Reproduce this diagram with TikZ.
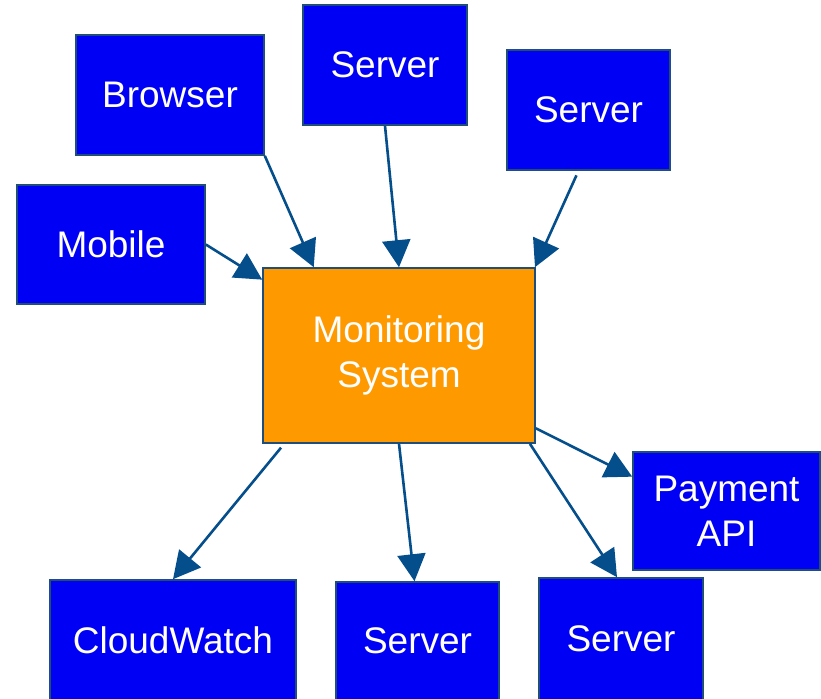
\documentclass[tikz,border=0pt]{standalone}
\usepackage{fontspec}
\setmainfont{Liberation Sans}
\usetikzlibrary{arrows.meta,positioning}

\definecolor{boxblue}{RGB}{0,0,245}
\definecolor{boxedge}{RGB}{30,78,121}
\definecolor{monorange}{RGB}{255,153,0}
\definecolor{arrowblue}{RGB}{5,78,140}

\tikzset{
	box/.style={draw=boxedge, line width=1.6pt, fill=boxblue, text=white,
		inner sep=0pt, align=center, font=\fontsize{37}{45}\selectfont},
	monbox/.style={box, fill=monorange},
	flow/.style={draw=arrowblue, line width=2.6pt,
		-{Triangle[length=27pt,width=28pt]}}
}

\begin{document}
\begin{tikzpicture}[x=1pt,y=-1pt]
		\useasboundingbox (0,0) rectangle (821,698);

		\draw (399,355.5) node [monbox, minimum width=272pt, minimum height=175pt] (mon){Monitoring\\System};

		\draw (170,95) node [box, minimum width=188pt, minimum height=120pt] (browser){Browser};
		\draw (385,65) node [box, minimum width=164pt, minimum height=120pt] (srvtop){Server};
		\draw (588.5,110) node [box, minimum width=163pt, minimum height=120pt] (srvright){Server};
		\draw (111,244.5) node [box, minimum width=188pt, minimum height=119pt] (mobile){Mobile};

		\draw (726.5,511) node [box, minimum width=187pt, minimum height=118pt] (payment){Payment\\API};
		\draw (173,640) node [box, minimum width=246pt, minimum height=120pt] (cloudwatch){CloudWatch};
		\draw (417.5,641) node [box, minimum width=163pt, minimum height=118pt] (srvmid){Server};
		\draw (621,639) node [box, minimum width=164pt, minimum height=122pt] (srvlow){Server};

		% into the monitoring system
		\draw [flow] (browser.south east) -- (mon.134.5);
		\draw [flow] (srvtop.south) -- (mon.north);
		\draw [flow, shorten <=5pt] ([xshift=-10pt]srvright.south) -- (mon.33.6);
		\draw [flow] (mobile.east) -- (mon.151.8);

		% out of the monitoring system
		\draw [flow] (mon.-28.9) -- (payment.160.5);
		\draw [flow, shorten <=5pt] ([xshift=22pt]mon.south west) -- (cloudwatch.north);
		\draw [flow] (mon.south) -- ([xshift=-3pt]srvmid.north);
		\draw [flow] (mon.-34.3) -- ([xshift=-4pt]srvlow.north);
	\end{tikzpicture}
\end{document}
